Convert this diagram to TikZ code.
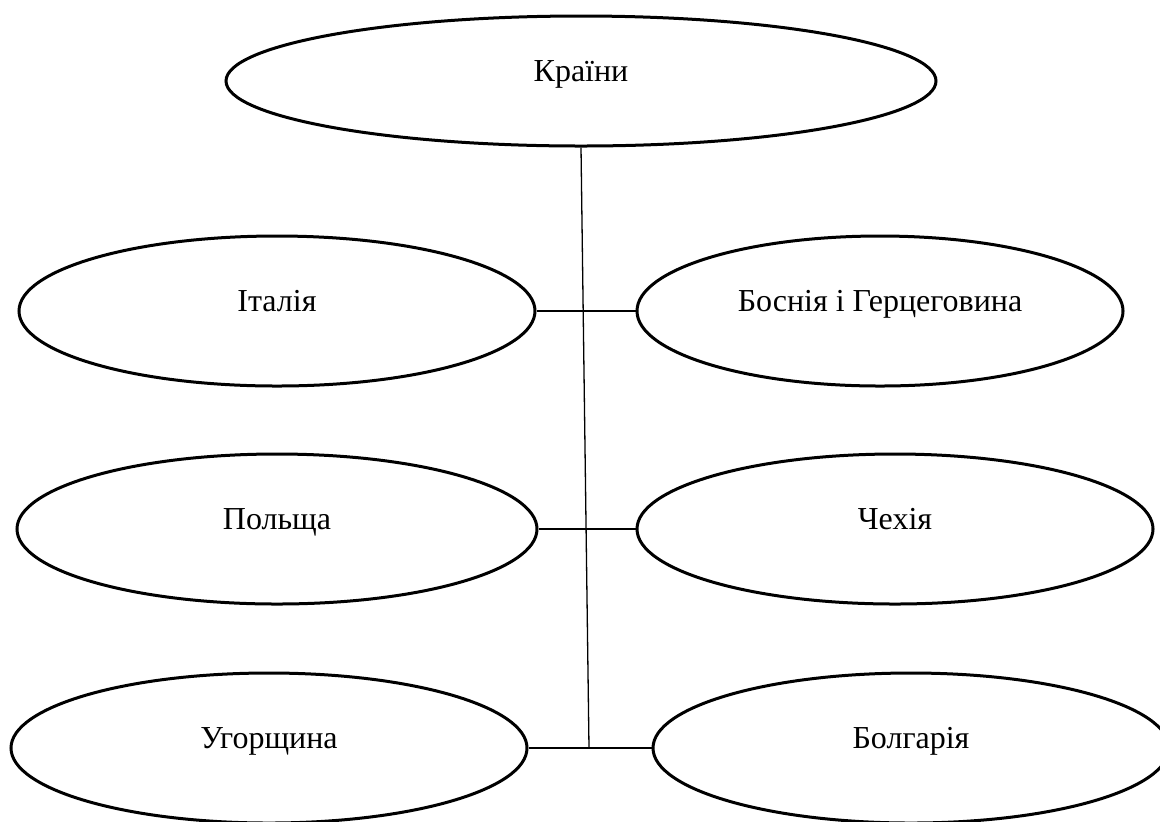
\documentclass[tikz,border=0pt]{standalone}
\usepackage{fontspec}
\setmainfont{Liberation Serif}
\usepackage{tikz}
\usetikzlibrary{shapes.geometric}

\begin{document}
\begin{tikzpicture}[
		x=0.5pt, y=-0.5pt,
		country/.style={
			ellipse,
			draw=black,
			line width=1.5pt,
			minimum width=258pt,
			minimum height=75pt,
			inner sep=0pt,
			text height=2ex,
			text depth=2ex,
			font=\fontsize{16}{19}\selectfont
		},
		link/.style={
			line width=0.65pt
		}
	]
	\useasboundingbox (0,0) rectangle (1160,821);
	
	\node[country, minimum width=355pt, minimum height=65pt] (krainy) at (581,81) {Країни};
	\node[country] (italiia) at (277,311) {Італія};
	\node[country, minimum width=243pt] (bosniia) at (880,311) {Боснія і Герцеговина};
	\node[country, minimum width=260pt] (polshcha) at (277,529) {Польща};
	\node[country] (chekhiia) at (895,529) {Чехія};
	\node[country] (uhorshchyna) at (269,748) {Угорщина};
	\node[country] (bolhariia) at (911,748) {Болгарія};
	\coordinate (hub) at (589,748);
	
	\draw[link] (krainy.south) -- (hub);
	\draw[link] (italiia.east) -- (bosniia.west);
	\draw[link] (polshcha.east) -- (chekhiia.west);
	\draw[link] (uhorshchyna.east) -- (bolhariia.west);
	
\end{tikzpicture}
\end{document}
